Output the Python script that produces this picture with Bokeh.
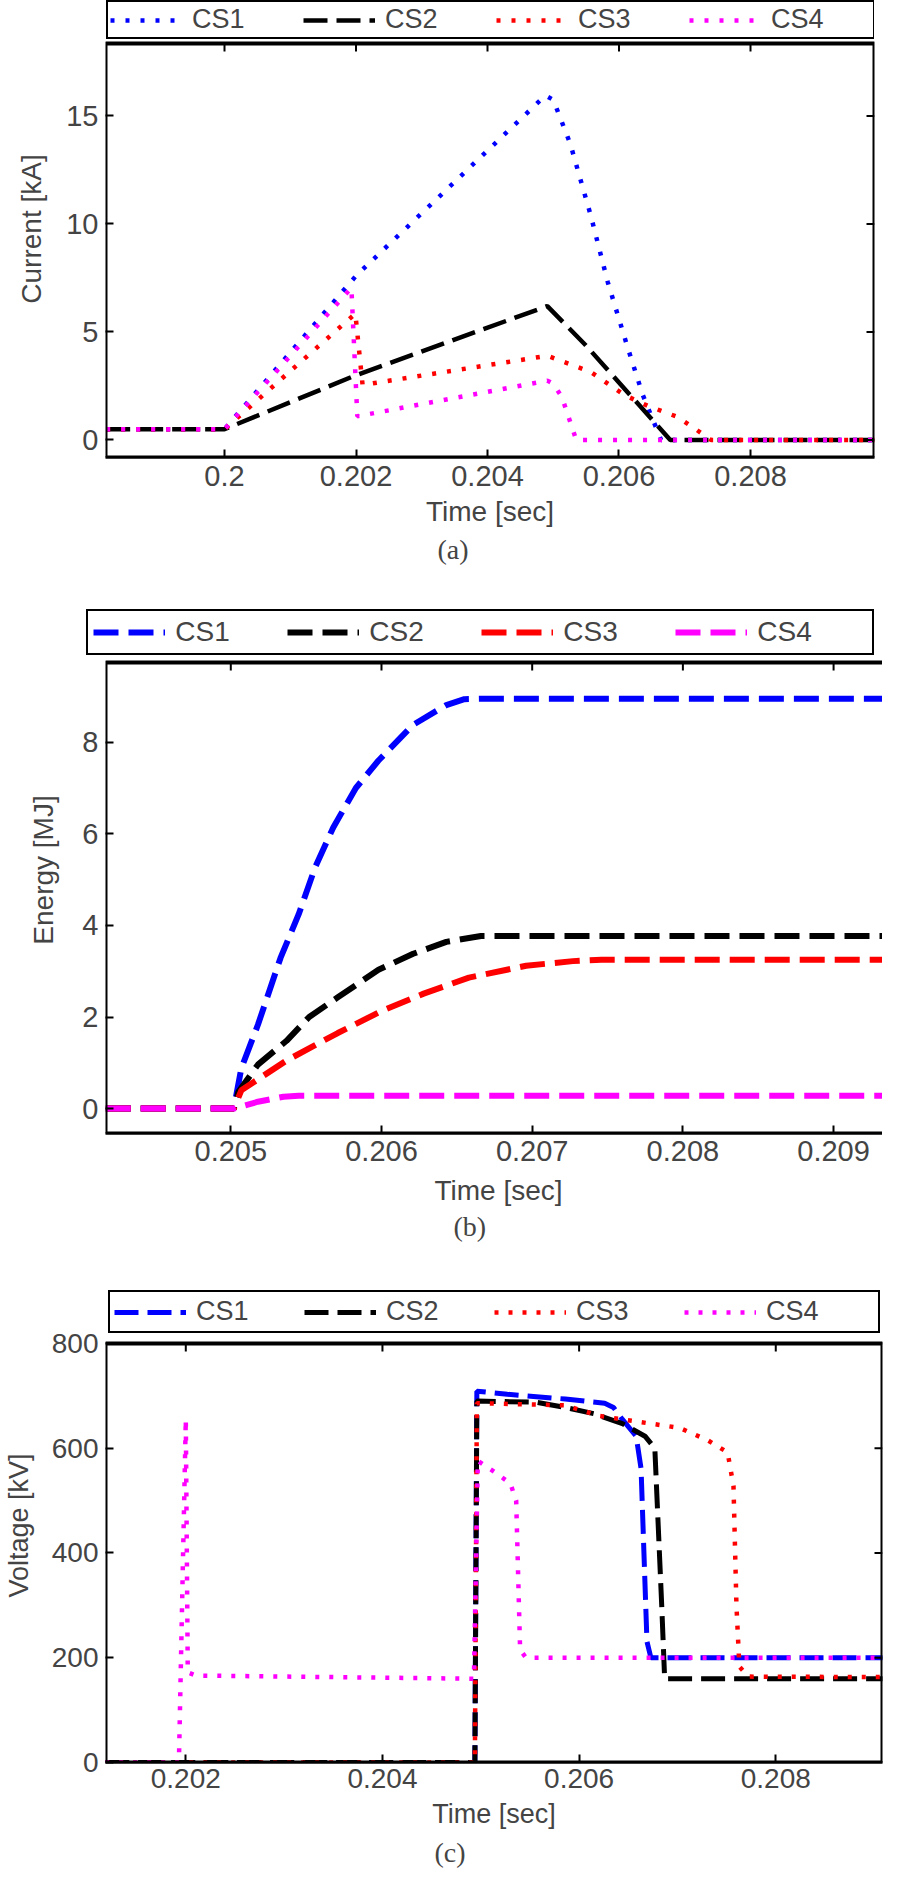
import math
from bokeh.plotting import figure
from bokeh.models import (Legend, LegendItem, LinearAxis, FixedTicker, Range1d, Title,
                          BoxAnnotation)
from bokeh.layouts import column
from bokeh.embed import file_html
from bokeh.resources import INLINE

FONT = "Liberation Sans"
SERIF = "Liberation Serif"
names = ["CS1", "CS2", "CS3", "CS4"]
colors = ["#0000ff", "#000000", "#ff0000", "#ff00ff"]

# ---------------- (a) Current [kA] ----------------
a_cs1_t = [0.1982, 0.2000, 0.2020, 0.20488, 0.20500, 0.20526, 0.20557, 0.20583, 0.20613, 0.20636, 0.20664, 0.2099]
a_cs1_v = [0.5, 0.5, 7.6, 15.95, 15.75, 13.7, 10.4, 7.3, 4.3, 2.1, 0.0, 0.0]
a_cs2_t = [0.1982, 0.2000, 0.2020, 0.20491, 0.20549, 0.20678, 0.2099]
a_cs2_v = [0.5, 0.5, 3.0, 6.2, 4.4, 0.0, 0.0]
a_cs3_t = [0.1982, 0.2000, 0.20199, 0.20210, 0.20491, 0.20557, 0.20609, 0.20644, 0.20688, 0.20713, 0.20740, 0.2099]
a_cs3_v = [0.5, 0.5, 5.85, 2.55, 3.9, 3.15, 2.07, 1.58, 1.08, 0.58, 0.0, 0.0]
a_cs4_t = [0.1982, 0.2000, 0.20193, 0.20202, 0.20491, 0.20500, 0.20513, 0.20535, 0.2099]
a_cs4_v = [0.5, 0.5, 7.05, 1.1, 2.75, 2.6, 2.0, 0.0, 0.0]
a_xticks = [0.200, 0.202, 0.204, 0.206, 0.208]
a_xtick_labels = ["0.2", "0.202", "0.204", "0.206", "0.208"]
a_yticks = [0, 5, 10, 15]

# ---------------- (b) Energy [MJ] ----------------
b_cs1_t = [0.20417, 0.20502, 0.20507, 0.20518, 0.20533, 0.20545, 0.20556, 0.20568, 0.20583, 0.20598, 0.20621, 0.20643, 0.20655, 0.20670, 0.20939]
b_cs1_v = [0.0, 0.0, 0.88, 1.83, 3.29, 4.24, 5.27, 6.14, 7.0, 7.6, 8.38, 8.81, 8.94, 8.95, 8.95]
b_cs2_t = [0.20417, 0.20502, 0.20505, 0.20518, 0.20537, 0.20552, 0.20571, 0.20598, 0.20621, 0.20643, 0.20666, 0.20939]
b_cs2_v = [0.0, 0.0, 0.36, 0.96, 1.48, 2.0, 2.43, 3.03, 3.38, 3.64, 3.77, 3.77]
b_cs3_t = [0.20417, 0.20502, 0.20507, 0.20537, 0.20571, 0.20600, 0.20628, 0.20658, 0.20696, 0.20727, 0.20746, 0.20939]
b_cs3_v = [0.0, 0.0, 0.4, 1.05, 1.65, 2.13, 2.51, 2.86, 3.12, 3.22, 3.25, 3.25]
b_cs4_t = [0.20417, 0.20502, 0.20518, 0.20535, 0.20545, 0.20939]
b_cs4_v = [0.0, 0.0, 0.15, 0.26, 0.28, 0.28]
b_xticks = [0.205, 0.206, 0.207, 0.208, 0.209]
b_xtick_labels = ["0.205", "0.206", "0.207", "0.208", "0.209"]
b_yticks = [0, 2, 4, 6, 8]

# ---------------- (c) Voltage [kV] ----------------
c_cs1_t = [0.20118, 0.20494, 0.20496, 0.20527, 0.20586, 0.20626, 0.20635, 0.20644, 0.20658, 0.20663, 0.20669, 0.20673, 0.20915]
c_cs1_v = [0, 0, 709, 703, 694, 686, 678, 655, 623, 561, 231, 200, 200]
c_cs2_t = [0.20118, 0.20494, 0.20496, 0.20556, 0.20586, 0.20615, 0.20644, 0.20667, 0.20677, 0.20684, 0.20687, 0.20915]
c_cs2_v = [0, 0, 690, 688, 678, 666, 647, 623, 600, 300, 160, 160]
c_cs3_t = [0.20118, 0.20494, 0.20496, 0.20586, 0.20620, 0.20644, 0.20673, 0.20702, 0.20731, 0.20751, 0.20757, 0.20760, 0.20763, 0.20772, 0.20915]
c_cs3_v = [0, 0, 686, 682, 662, 655, 647, 639, 615, 592, 528, 300, 183, 164, 163]
c_cs4_t = [0.20118, 0.20193, 0.20200, 0.20202, 0.20210, 0.20493, 0.20497, 0.20516, 0.20530, 0.20536, 0.20540, 0.20546, 0.20915]
c_cs4_v = [0, 0, 655, 172, 166, 160, 576, 552, 533, 500, 215, 200, 200]
c_xticks = [0.202, 0.204, 0.206, 0.208]
c_xtick_labels = ["0.202", "0.204", "0.206", "0.208"]
c_yticks = [0, 200, 400, 600, 800]


def build(fw, fh, bl, br, bb, xr, yr, y_top, xticks, xlabels, yticks, ylabel,
          xs, ys, styles, leg, caption, cap_offset, y_lab_standoff,
          tick_standoff, x_lab_standoff, cap_standoff,
          tick_size="29px", lab_size="28px"):
    # the frame reaches up to y_top so that the boxed legend sits above the axes box
    p = figure(frame_width=fw, frame_height=fh, output_backend="svg", toolbar_location=None,
               x_range=Range1d(*xr), y_range=Range1d(yr[0], y_top), title=None,
               x_axis_type=None, y_axis_type=None,
               min_border_left=bl, min_border_right=br, min_border_top=0, min_border_bottom=bb)
    p.outline_line_color = None
    p.background_fill_color = "white"
    p.border_fill_color = "white"
    p.xgrid.visible = False
    p.ygrid.visible = False

    rends = []
    for i in range(4):
        lw, dash = styles[i]
        rends.append(p.line(xs[i], ys[i], line_color=colors[i], line_width=lw, line_dash=dash))

    # axes box spanning the data limits
    p.add_layout(BoxAnnotation(left=xr[0], right=xr[1], bottom=yr[0], top=yr[1],
                               fill_color=None, line_color="black", line_width=4, line_alpha=1.0))

    # mirrored inward ticks on the top and right edges of the box
    p.ray(x=xticks, y=[yr[1]] * len(xticks), length=8, length_units="screen",
          angle=-math.pi / 2, line_color="black", line_width=2)
    p.ray(x=[xr[1]] * len(yticks), y=yticks, length=8, length_units="screen",
          angle=math.pi, line_color="black", line_width=2)

    common = dict(major_tick_in=8, major_tick_out=0, minor_tick_in=0, minor_tick_out=0,
                  major_tick_line_width=2, major_tick_line_color="black")

    xb = LinearAxis(ticker=FixedTicker(ticks=xticks),
                    major_label_overrides=dict(zip(xticks, xlabels)),
                    axis_label="Time [sec]", axis_label_text_font=FONT,
                    axis_label_text_font_size=lab_size, axis_label_text_font_style="normal",
                    axis_label_standoff=x_lab_standoff,
                    major_label_text_font=FONT, major_label_text_font_size=tick_size,
                    major_label_standoff=tick_standoff,
                    axis_line_width=2.5, axis_line_color="black", **common)
    p.add_layout(xb, "below")
    cap = Title(text=caption, align="left", offset=cap_offset, standoff=cap_standoff,
                text_font=SERIF, text_font_size="28px", text_font_style="normal")
    p.add_layout(cap, "below")

    yl = LinearAxis(ticker=FixedTicker(ticks=yticks), axis_label=ylabel,
                    axis_label_text_font=FONT, axis_label_text_font_size=lab_size,
                    axis_label_text_font_style="normal", axis_label_standoff=y_lab_standoff,
                    major_label_text_font=FONT, major_label_text_font_size=tick_size,
                    major_label_standoff=7, axis_line_color=None, **common)
    p.add_layout(yl, "left")

    legend = Legend(items=[LegendItem(label=names[i], renderers=[rends[i]]) for i in range(4)],
                    orientation="horizontal", location=(leg["vx"], leg["vy"]),
                    glyph_width=leg["gw"], glyph_height=20, label_standoff=10,
                    label_width=leg["lw"], spacing=leg["sp"], padding=leg["pad"], margin=0,
                    border_line_color="black", border_line_width=2.5, border_line_alpha=1.0,
                    background_fill_color="white", background_fill_alpha=1.0,
                    label_text_font=FONT, label_text_font_size=leg["fs"])
    p.add_layout(legend)
    return p


styles_a = [(4.5, "4 11"), (4.5, "24 9"), (4.5, "4 11"), (4.5, "4 11")]
styles_b = [(6, "25 10"), (6, "25 10"), (6, "25 10"), (6, "25 10")]
styles_c = [(5, "24 9"), (5, "24 9"), (4.5, "4 10"), (4.5, "4 10")]

pa = build(769, 457, 101, 12, 149, (0.19819, 0.209886), (-0.8102, 18.356), 20.347,
           a_xticks, a_xtick_labels, a_yticks, "Current [kA]",
           [a_cs1_t, a_cs2_t, a_cs3_t, a_cs4_t], [a_cs1_v, a_cs2_v, a_cs3_v, a_cs4_v], styles_a,
           dict(gw=72, lw=100, sp=11, pad=2, vx=1, vy=418, fs="27px"),
           "(a)", 332, 16, 8, 7, 4)

pb = build(786, 527, 85, 11, 155, (0.2041686, 0.2093843), (-0.5437, 9.740), 10.963,
           b_xticks, b_xtick_labels, b_yticks, "Energy [MJ]",
           [b_cs1_t, b_cs2_t, b_cs3_t, b_cs4_t], [b_cs1_v, b_cs2_v, b_cs3_v, b_cs4_v], styles_b,
           dict(gw=72, lw=110, sp=2, pad=5, vx=1, vy=478, fs="28px"),
           "(b)", 348, 20, 7, 11, 0)

pc = build(777, 474, 104, 1, 115, (0.2011834, 0.2090854), (0, 800), 905.01,
           c_xticks, c_xtick_labels, c_yticks, "Voltage [kV]",
           [c_cs1_t, c_cs2_t, c_cs3_t, c_cs4_t], [c_cs1_v, c_cs2_v, c_cs3_v, c_cs4_v], styles_c,
           dict(gw=72, lw=108, sp=0, pad=4, vx=3, vy=429, fs="27px"),
           "(c)", 329, 15, 6, 8, 6, tick_size="28px", lab_size="27px")

layout = column(pa, pb, pc)
open("out.html", "w").write(file_html(layout, INLINE))
